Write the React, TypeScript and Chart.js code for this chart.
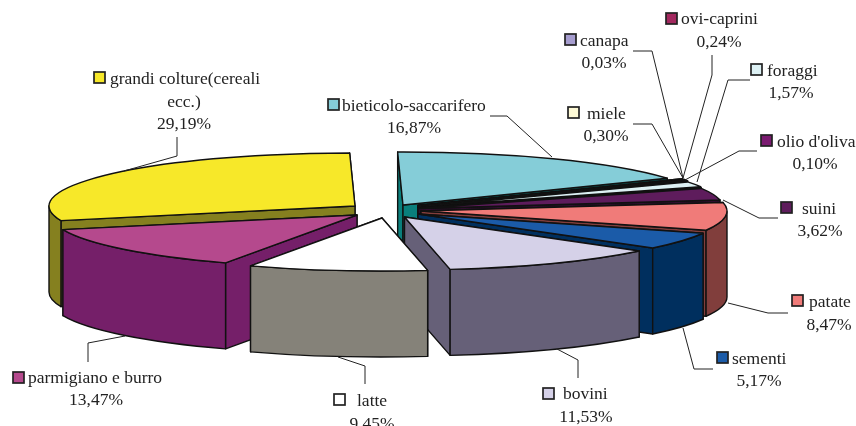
import React, { useEffect, useRef } from "react";
import Chart from "chart.js/auto";

const categories = ["bieticolo-saccarifero", "miele", "canapa", "ovi-caprini", "foraggi", "olio d'oliva", "suini", "patate", "sementi", "bovini", "latte", "parmigiano e burro", "grandi colture(cereali\necc.)"];
const shares = [16.87, 0.30, 0.03, 0.24, 1.57, 0.10, 3.62, 8.47, 5.17, 11.53, 9.45, 13.47, 29.19];
const topColors = ["#85CDD8", "#FDF9D5", "#A69DCF", "#A3285F", "#DDF1F4", "#7A1A70", "#5E1C5C", "#F07B79", "#1B5BA8", "#D5D1E8", "#FFFFFF", "#B5498D", "#F7E829"];
const sideColors = ["#0A7F7C", "#7E7C6A", "#534E68", "#52142F", "#6E7A7A", "#3D0D38", "#2F0E2E", "#813E3C", "#002F5E", "#666078", "#858279", "#751F69", "#85801F"];

// Slice geometry on the picture (style constants, not data)
const RX = 306, RY = 53, DEPTH = 86;
const apexes = [[403, 205], [418, 205.5], [418, 205.5], [418, 206], [418, 207], [418, 208], [418, 208.5], [421, 211], [418, 214], [404.5, 217], [382, 218], [357, 215], [355, 206]];
const keys = [[328, 99], [568, 107], [565, 34], [666, 13], [751, 64], [761, 135], [781, 202], [792, 295], [717, 352], [543, 388], [334, 394], [13, 372], [94, 72]];
const nameAt = [[342, 105], [587, 113], [580, 40], [681, 18], [767, 70], [777, 141], [802, 208], [809, 301], [732, 358], [563, 393], [357, 400], [28, 377], [110, 78]];
const valueAt = [[414, 127], [606, 135], [604, 62], [719, 41], [791, 92], [815, 163], [820, 230], [829, 324], [759, 380], [586, 416], [372, 423], [96, 399], [184, 123]];
const leaders = [
  [[490, 116], [507, 116], [552, 157]],
  [[633, 124], [652, 124], [683, 178]],
  [[633, 51], [652, 51], [683, 178]],
  [[712, 55], [712, 75], [683, 178]],
  [[750, 80], [728, 80], [697, 182]],
  [[757, 151], [739, 151], [685, 180]],
  [[778, 218], [759, 218], [723, 200]],
  [[788, 313], [768, 313], [728, 303]],
  [[713, 369], [694, 369], [683, 328]],
  [[578, 378], [578, 360], [557, 349]],
  [[365, 384], [365, 366], [338, 357]],
  [[88, 362], [88, 343], [125, 336]],
  [[177, 137], [177, 156], [124, 171]],
];

const tiltedPie = {
  id: "tiltedPie",
  beforeDatasetsDraw(chart: any) {
    const ctx: CanvasRenderingContext2D = chart.ctx;
    const arcs = chart.getDatasetMeta(0).data;
    const slices = arcs.map((arc: any, i: number) => {
      const [ax, ay] = apexes[i];
      const mid = (arc.startAngle + arc.endAngle) / 2;
      return { i, ax, ay, s: arc.startAngle, e: arc.endAngle, sort: ay + Math.sin(mid) * RY };
    });
    slices.sort((a: any, b: any) => a.sort - b.sort);
    ctx.save();
    ctx.lineWidth = 1.4;
    ctx.strokeStyle = "#111";
    ctx.lineJoin = "round";
    for (const p of slices) {
      const pts = [p.s, p.e].map((a: number) => [p.ax + RX * Math.cos(a), p.ay + RY * Math.sin(a)]);
      pts.sort((a, b) => a[1] - b[1]);
      ctx.fillStyle = sideColors[p.i];
      for (const q of pts) {
        ctx.beginPath();
        ctx.moveTo(p.ax, p.ay);
        ctx.lineTo(q[0], q[1]);
        ctx.lineTo(q[0], q[1] + DEPTH);
        ctx.lineTo(p.ax, p.ay + DEPTH);
        ctx.closePath();
        ctx.fill();
        ctx.stroke();
      }
      for (const k of [-1, 0, 1]) {
        const lo = Math.max(p.s, 2 * Math.PI * k);
        const hi = Math.min(p.e, 2 * Math.PI * k + Math.PI);
        if (hi > lo) {
          ctx.beginPath();
          ctx.ellipse(p.ax, p.ay, RX, RY, 0, lo, hi);
          ctx.ellipse(p.ax, p.ay + DEPTH, RX, RY, 0, hi, lo, true);
          ctx.closePath();
          ctx.fill();
          ctx.stroke();
        }
      }
      ctx.fillStyle = topColors[p.i];
      ctx.beginPath();
      ctx.moveTo(p.ax, p.ay);
      ctx.ellipse(p.ax, p.ay, RX, RY, 0, p.s, p.e);
      ctx.closePath();
      ctx.fill();
      ctx.stroke();
    }
    ctx.restore();
    return false;
  },
  afterDraw(chart: any) {
    const ctx: CanvasRenderingContext2D = chart.ctx;
    ctx.save();
    ctx.font = '17.5px "Liberation Serif"';
    ctx.textBaseline = "middle";
    categories.forEach((name, i) => {
      ctx.strokeStyle = "#222";
      ctx.lineWidth = 1;
      ctx.beginPath();
      leaders[i].forEach((pt, j) => (j ? ctx.lineTo(pt[0], pt[1]) : ctx.moveTo(pt[0], pt[1])));
      ctx.stroke();
      ctx.fillStyle = topColors[i];
      ctx.strokeStyle = "#222";
      ctx.lineWidth = 1.7;
      ctx.fillRect(keys[i][0], keys[i][1], 11, 11);
      ctx.strokeRect(keys[i][0], keys[i][1], 11, 11);
      ctx.fillStyle = "#222";
      const lines = name.split("\n");
      ctx.textAlign = "left";
      ctx.fillText(lines[0], nameAt[i][0], nameAt[i][1] + 1.5);
      ctx.textAlign = "center";
      if (lines[1]) ctx.fillText(lines[1], valueAt[i][0], valueAt[i][1] - 22 + 1.5);
      ctx.fillText(shares[i].toFixed(2).replace(".", ",") + "%", valueAt[i][0], valueAt[i][1] + 1.5);
    });
    ctx.restore();
  },
};

export default function App() {
  const ref = useRef<HTMLCanvasElement>(null);
  useEffect(() => {
    document.body.style.margin = "0";
    const chart = new Chart(ref.current!, {
      type: "pie",
      data: { labels: categories, datasets: [{ data: shares, backgroundColor: topColors }] },
      options: {
        responsive: false,
        animation: false,
        rotation: -1,
        plugins: { legend: { display: false }, tooltip: { enabled: false } },
      },
      plugins: [tiltedPie],
    } as any);
    return () => chart.destroy();
  }, []);
  return <canvas ref={ref} width={856} height={426} style={{ display: "block" }} />;
}
